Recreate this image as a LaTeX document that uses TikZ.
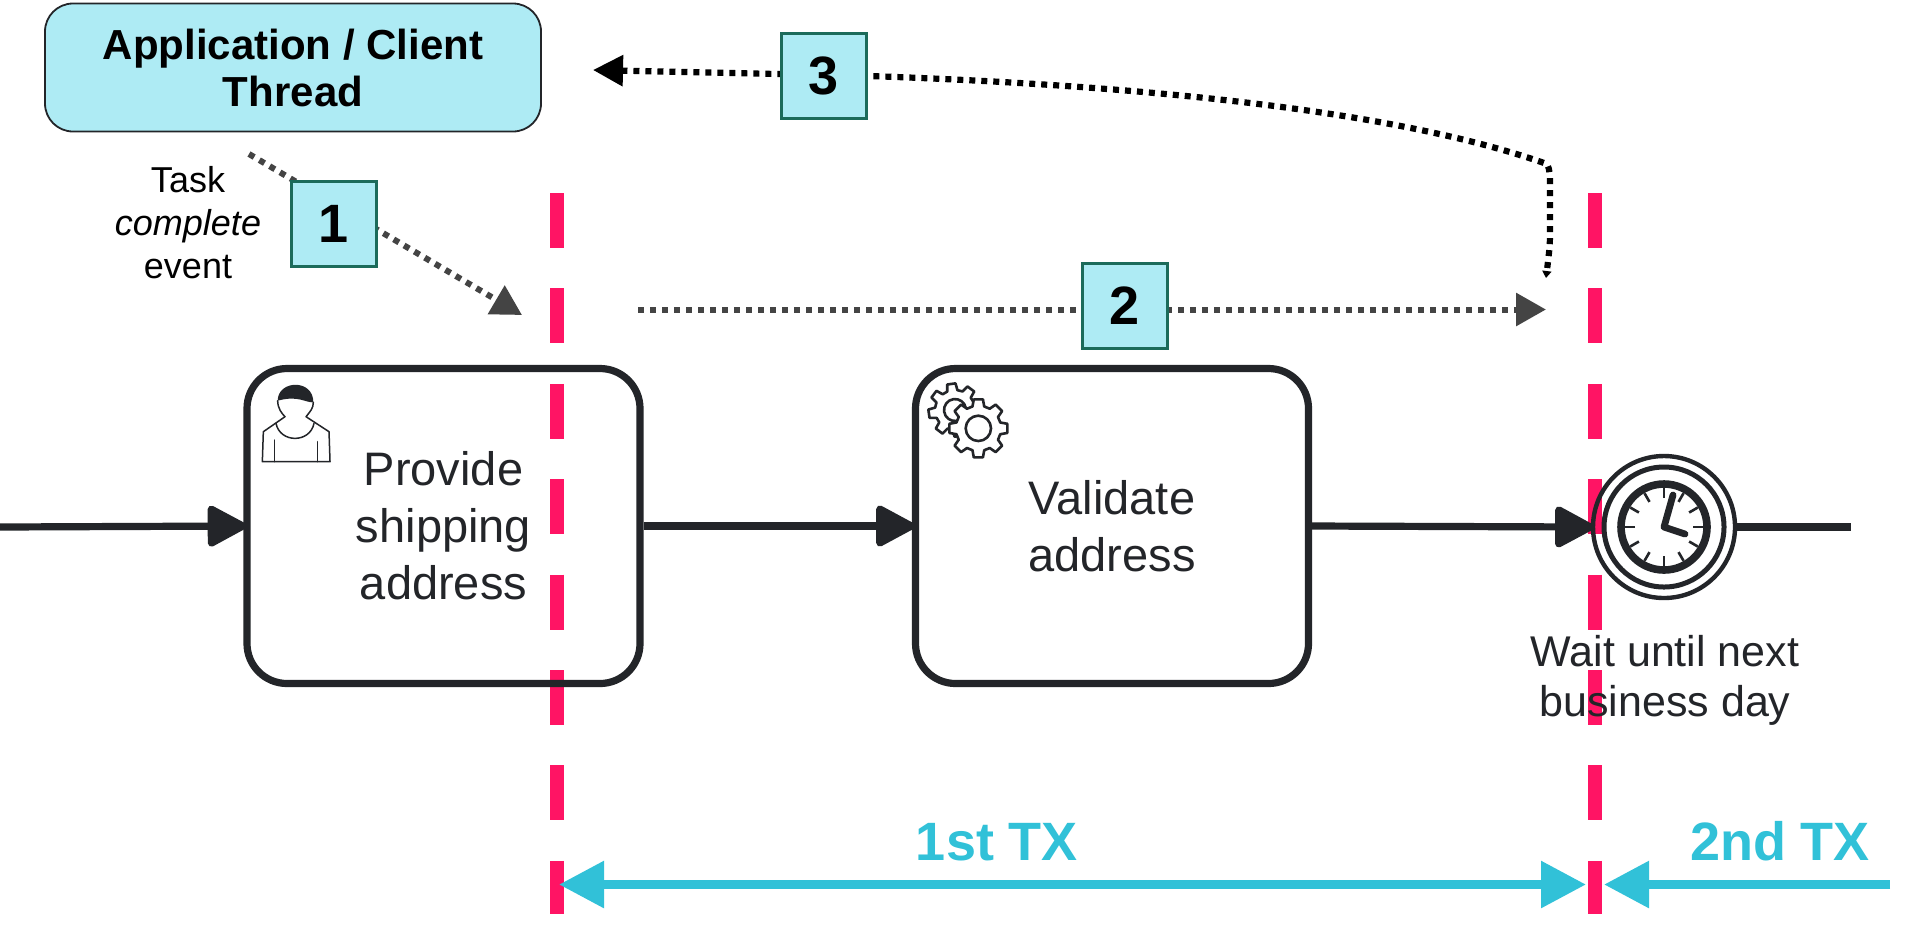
\documentclass[tikz,border=0pt]{standalone}
\usepackage{fontspec}
\setmainfont{Liberation Sans}
\usetikzlibrary{arrows.meta}
\definecolor{inkc}{HTML}{232529}
\definecolor{pinkc}{HTML}{FF1464}
\definecolor{tealc}{HTML}{31C1D8}
\definecolor{aquac}{HTML}{AEEBF4}
\definecolor{greenc}{HTML}{1C6B5A}
\definecolor{dotc}{HTML}{444444}
\tikzset{
  taskbox/.style={draw=inkc,line width=3.6pt,rounded corners=20pt,minimum width=196.5pt,minimum height=157.5pt,align=center,text=inkc,font=\fontsize{23.5}{28.5}\selectfont,inner sep=0pt},
  appbox/.style={draw=inkc,fill=aquac,line width=0.9pt,rounded corners=14pt,minimum width=248pt,minimum height=64pt,align=center,font=\fontsize{21}{23.5}\selectfont\bfseries,inner sep=0pt},
  badge/.style={draw=greenc,fill=aquac,line width=1.5pt,minimum width=42.5pt,minimum height=42.5pt,font=\fontsize{27}{30}\selectfont\bfseries,inner sep=0pt},
  flow/.style={draw=inkc,line width=3.6pt,shorten >=-1.5pt,-{Triangle[length=21.5pt,width=22pt,round]}},
  plainflow/.style={draw=inkc,line width=3.6pt},
  pinkline/.style={draw=pinkc,line width=7pt,dash pattern=on 27.5pt off 20.2pt},
  dotline/.style={draw=dotc,line width=3pt,dash pattern=on 3pt off 3pt,-{Triangle[length=15pt,width=16pt]}},
  backline/.style={draw=black,line width=3.1pt,dash pattern=on 3pt off 3pt,{Triangle[length=15pt,width=15pt]}-{Triangle[length=3.5pt,width=4.5pt]}},
  txflow/.style={draw=tealc,line width=4.5pt},
  txlabel/.style={text=tealc,font=\fontsize{27}{30}\selectfont\bfseries,inner sep=0pt},
  ring/.style={draw=inkc,circle,inner sep=0pt},
  iconline/.style={draw=inkc,line width=0.75pt,line join=round,line cap=round},
  gearline/.style={draw=inkc,line width=1.3pt,line join=round},
  clockline/.style={draw=inkc,line width=1.3pt},
}
\newcommand{\mygear}[6]{%
  \begin{scope}[shift={(#1,#2)},rotate=#5]
    \draw[gearline,fill=white] (-16:#4) \foreach \a in {0,45,...,315}{ -- ({\a-15}:#4) -- ({\a-9}:#3) -- ({\a+9}:#3) -- ({\a+15}:#4) } -- cycle;
    \draw[gearline] (0,0) circle[radius=#6];
  \end{scope}}
\begin{document}
\begin{tikzpicture}[x=0.5pt,y=-0.5pt]
\path[fill=white,use as bounding box] (0,0) rectangle (1920,934);
% coordinates
\coordinate (pa1) at (557,193); \coordinate (pa2) at (557,914);
\coordinate (pb1) at (1595,193); \coordinate (pb2) at (1595,914);
\coordinate (start) at (0,527);
\coordinate (finish) at (1851,527);
\coordinate (s1) at (249,154); \coordinate (t1) at (522,315);
\coordinate (s2) at (638,309.5); \coordinate (t2) at (1546,309.5);
\coordinate (t3) at (593,70); \coordinate (c3a) at (869,76); \coordinate (c3b) at (1547,164);
\coordinate (c3c) at (1550,178); \coordinate (c3d) at (1550,225); \coordinate (e3) at (1546,278);
\coordinate (txa) at (559,884.5); \coordinate (txb) at (1586,884.5);
\coordinate (txc) at (1890,884.5); \coordinate (txd) at (1604,884.5);
% transaction boundaries
\draw[pinkline] (pa1) -- (pa2);
\draw[pinkline] (pb1) -- (pb2);
% process
\node[taskbox] (task1) at (443.5,526) {Provide\\shipping\\address};
\node[taskbox] (task2) at (1112,526) {Validate\\address};
\node[ring,line width=2.2pt,minimum size=71pt] (timer) at (1664,527) {};
\node[ring,line width=2.5pt,minimum size=60pt] (timermid) at (1664,527) {};
\node[ring,line width=3.8pt,minimum size=43pt] (clock) at (1664,527) {};
\draw[flow] (start) -- (task1.west);
\draw[flow] (task1.east) -- (task2.west);
\draw[flow] (task2.east) -- (timer.west);
\draw[plainflow] (timer.east) -- (finish);
% clock
\begin{scope}[shift={(1664,527)}]
  \foreach \a in {0,30,...,330} \draw[clockline] (\a:29) -- (\a:39);
  \draw[draw=inkc,line width=3.4pt,line cap=round,line join=round] (9,-32) -- (0,0) -- (21,7);
\end{scope}
% user icon
\begin{scope}[shift={(230,360)},x=0.1667pt,y=-0.1667pt]
  \fill[inkc] (143,122) .. controls (143,60) and (250,55) .. (250,127) .. controls (225,128) and (205,105) .. (143,122) -- cycle;
  \draw[iconline] (143,122) .. controls (143,145) and (155,160) .. (165,170) -- (100,215) -- (97,305) -- (300,305) -- (297,215) -- (228,170) .. controls (240,155) and (250,145) .. (250,127);
  \draw[iconline] (138,190) .. controls (150,250) and (240,250) .. (252,190);
  \draw[iconline] (133,240) -- (133,305);
  \draw[iconline] (262,245) -- (262,305);
\end{scope}
% gears icon
\begin{scope}[shift={(900,360)},x=0.1667pt,y=-0.1667pt]
  \mygear{165}{150}{80}{60}{8}{33}
  \mygear{235}{205}{88}{68}{0}{38}
\end{scope}
\node[text=inkc,align=center,inner sep=0pt,font=\fontsize{21.5}{25}\selectfont] (waitlabel) at (1665,680) {Wait until next\\business day};
% client
\node[appbox] (app) at (293,67.5) {Application / Client\\Thread};
\node[align=center,inner sep=0pt,font=\fontsize{18}{21.5}\selectfont] (evlabel) at (188,223) {Task\\\textit{complete}\\event};
% numbered connectors
\draw[dotline] (s1) -- (t1);
\draw[dotline] (s2) -- (t2);
\draw[backline] (t3) -- (c3a) .. controls (1100,84) and (1380,105) .. (c3b) .. controls (1549,168) .. (c3c) -- (c3d) .. controls (1550,245) .. (e3);
\node[badge] (b1) at (334,223.5) {1};
\node[badge] (b2) at (1124.5,305.5) {2};
\node[badge] (b3) at (824,75.5) {3};
% transaction spans
\draw[txflow,{Triangle[length=22.5pt,width=22.5pt]}-{Triangle[length=22.5pt,width=22.5pt]}] (txa) -- (txb);
\draw[txflow,-{Triangle[length=22.5pt,width=22.5pt]}] (txc) -- (txd);
\node[txlabel] (tx1) at (997,842) {1st TX};
\node[txlabel] (tx2) at (1780,841) {2nd TX};
\end{tikzpicture}
\end{document}
